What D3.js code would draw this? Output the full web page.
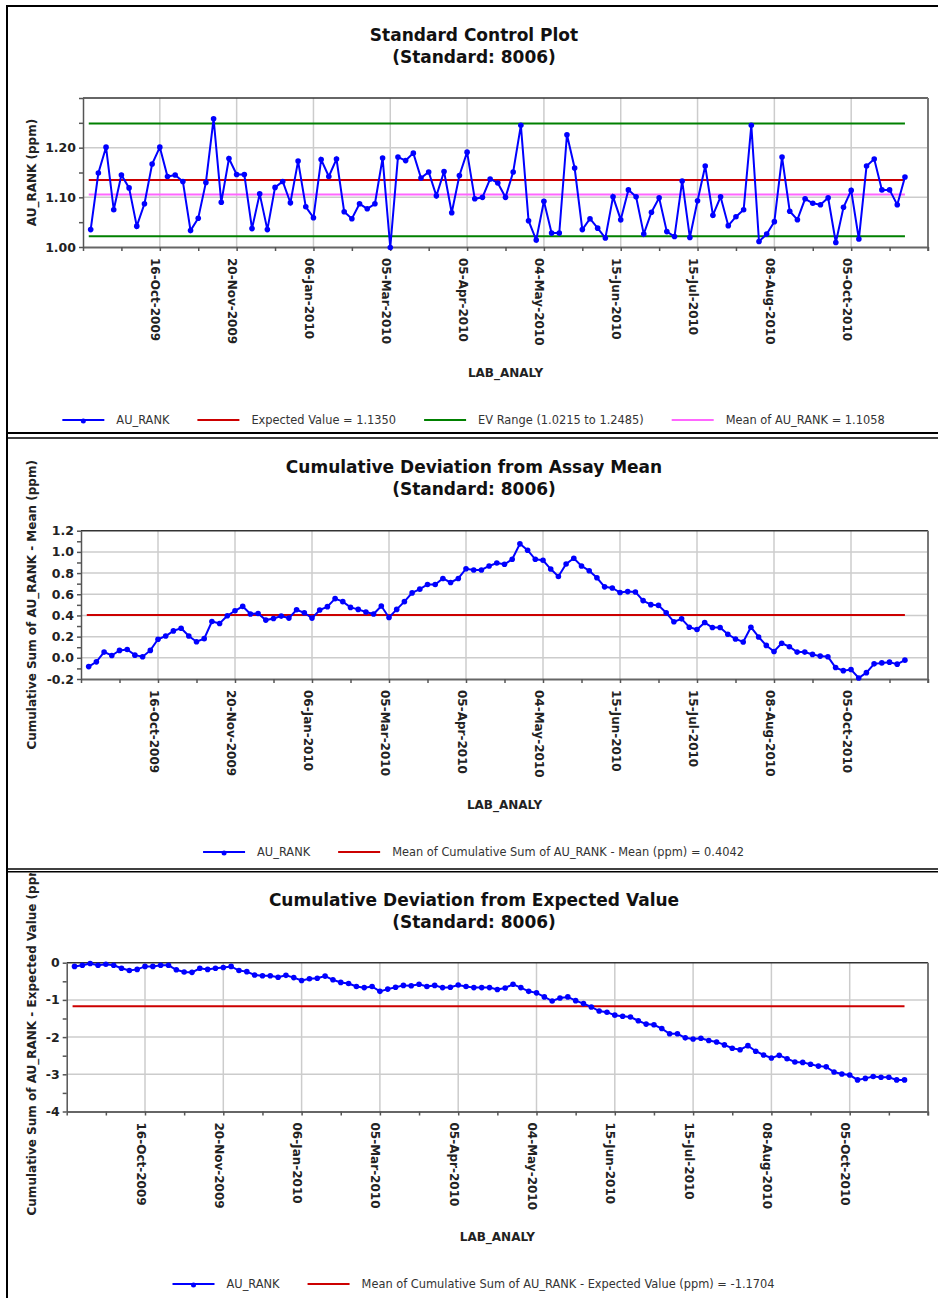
<!DOCTYPE html>
<html><head><meta charset="utf-8">
<script src="https://cdn.jsdelivr.net/npm/d3@7/dist/d3.min.js"></script>
<style>
body{margin:0;background:#fff}
svg{display:block}
text{font-family:"DejaVu Sans",Verdana,sans-serif}
</style>
</head><body>
<svg id="c" width="938" height="1298"></svg>
<script>
// ---------- DATA ----------
const xLabels = ["16-Oct-2009","20-Nov-2009","06-Jan-2010","05-Mar-2010","05-Apr-2010","04-May-2010","15-Jun-2010","15-Jul-2010","08-Aug-2010","05-Oct-2010"];
const xLabelIndex = [10,20,30,40,50,60,70,80,90,100];
const xTickIndex = [0,5,10,15,20,25,30,35,40,45,50,55,60,65,70,75,80,85,90,95,100,105,110];

const auRank = [1.035,1.149,1.201,1.075,1.145,1.119,1.042,1.087,1.167,1.201,
1.142,1.145,1.132,1.033,1.058,1.130,1.258,1.090,1.178,1.146,
1.146,1.037,1.107,1.035,1.120,1.132,1.089,1.173,1.081,1.059,
1.176,1.142,1.177,1.071,1.057,1.087,1.077,1.087,1.179,0.999,
1.181,1.174,1.189,1.139,1.151,1.103,1.152,1.069,1.144,1.191,
1.097,1.100,1.137,1.129,1.100,1.151,1.245,1.053,1.014,1.092,
1.028,1.028,1.226,1.159,1.035,1.057,1.038,1.018,1.101,1.055,
1.115,1.101,1.026,1.070,1.099,1.031,1.021,1.133,1.019,1.093,
1.163,1.064,1.101,1.043,1.061,1.075,1.245,1.011,1.026,1.051,
1.181,1.072,1.055,1.097,1.088,1.085,1.099,1.009,1.080,1.114,
1.016,1.163,1.177,1.115,1.115,1.085,1.141];

const cumDevMean = [-0.083,-0.038,0.054,0.022,0.070,0.079,0.025,0.010,0.070,0.175,
0.206,0.254,0.279,0.206,0.152,0.181,0.343,0.324,0.397,0.444,
0.486,0.413,0.419,0.356,0.371,0.394,0.375,0.454,0.425,0.375,
0.451,0.483,0.559,0.530,0.476,0.457,0.432,0.413,0.489,0.381,
0.457,0.530,0.613,0.648,0.692,0.692,0.749,0.711,0.749,0.841,
0.829,0.829,0.867,0.895,0.883,0.930,1.076,1.016,0.930,0.921,
0.838,0.768,0.886,0.940,0.867,0.822,0.756,0.670,0.659,0.616,
0.625,0.622,0.540,0.502,0.495,0.425,0.340,0.368,0.289,0.267,
0.333,0.286,0.286,0.222,0.178,0.149,0.289,0.197,0.117,0.060,
0.137,0.105,0.054,0.054,0.032,0.016,0.010,-0.092,-0.121,-0.111,
-0.191,-0.140,-0.057,-0.048,-0.041,-0.060,-0.022];

const cumDevEV = [-0.10,-0.07,-0.02,-0.07,-0.04,-0.07,-0.15,-0.21,-0.18,-0.10,
-0.10,-0.07,-0.07,-0.19,-0.25,-0.26,-0.15,-0.18,-0.15,-0.13,
-0.10,-0.21,-0.24,-0.33,-0.35,-0.35,-0.39,-0.34,-0.40,-0.48,
-0.43,-0.42,-0.36,-0.46,-0.53,-0.56,-0.64,-0.67,-0.64,-0.77,
-0.71,-0.66,-0.61,-0.62,-0.58,-0.64,-0.61,-0.67,-0.66,-0.60,
-0.64,-0.67,-0.67,-0.67,-0.72,-0.68,-0.58,-0.67,-0.77,-0.81,
-0.92,-1.03,-0.95,-0.92,-1.02,-1.10,-1.19,-1.30,-1.33,-1.41,
-1.44,-1.46,-1.56,-1.65,-1.67,-1.77,-1.91,-1.91,-2.02,-2.05,
-2.03,-2.09,-2.13,-2.21,-2.30,-2.34,-2.23,-2.38,-2.48,-2.56,
-2.49,-2.58,-2.67,-2.68,-2.73,-2.78,-2.80,-2.94,-2.99,-3.02,
-3.15,-3.11,-3.06,-3.08,-3.08,-3.15,-3.15];

const expectedValue = 1.1350, evLow = 1.0215, evHigh = 1.2485, meanAuRank = 1.1058;
const meanCumDevMean = 0.4042, meanCumDevEV = -1.1704;

const topTicks = [1.00,1.05,1.10,1.15,1.20,1.25,1.30];
const topLabels = [1.00,1.10,1.20];
const midTicks = [-0.2,-0.1,0.0,0.1,0.2,0.3,0.4,0.5,0.6,0.7,0.8,0.9,1.0,1.1,1.2];
const midLabels = [-0.2,0.0,0.2,0.4,0.6,0.8,1.0,1.2];
const botTicks = [-4,-3.5,-3,-2.5,-2,-1.5,-1,-0.5,0];
const botLabels = [-4,-3,-2,-1,0];

// ---------- DRAW ----------
const svg = d3.select('#c');
const defs = svg.append('defs');
const BLUE = '#0000ff', RED = '#cc0000', GREEN = '#008000', PINK = '#ff66ff';

function drawLegend(g, items, cy, cx) {
  const lg = g.append('g');
  let xpos = 0;
  items.forEach((it, k) => {
    const ig = lg.append('g').attr('transform', `translate(${xpos},0)`);
    ig.append('line').attr('x1', 0).attr('x2', 42).attr('y1', cy).attr('y2', cy)
      .attr('stroke', it.color).attr('stroke-width', 2);
    if (it.marker) ig.append('circle').attr('cx', 21).attr('cy', cy + 1).attr('r', 2.5).attr('fill', it.color);
    const t = ig.append('text').attr('x', 54).attr('y', cy + 4).attr('font-size', 11.4)
      .attr('fill', '#333').text(it.label);
    xpos += 54 + t.node().getComputedTextLength() + 28;
  });
  const w = xpos - 28;
  lg.attr('transform', `translate(${cx - w / 2},0)`);
}

function drawPanel(p) {
  defs.append('clipPath').attr('id', p.id).append('rect')
    .attr('x', 0).attr('y', p.top).attr('width', 938).attr('height', p.bottom - p.top);
  const g = svg.append('g').attr('clip-path', `url(#${p.id})`);
  const x = d3.scaleLinear().domain([0, 110]).range([p.x0, p.x1]);
  const y = d3.scaleLinear().domain(p.yDomain).range([p.y1, p.y0]);

  // titles
  g.append('text').attr('x', 474).attr('y', p.titleY).attr('text-anchor', 'middle')
    .attr('font-size', 17).attr('font-weight', 'bold').attr('fill', '#111').text(p.title);
  g.append('text').attr('x', 474).attr('y', p.titleY + 22).attr('text-anchor', 'middle')
    .attr('font-size', 17).attr('font-weight', 'bold').attr('fill', '#111').text('(Standard: 8006)');

  // grid
  g.append('g').selectAll('line').data(xLabelIndex).join('line')
    .attr('x1', d => x(d)).attr('x2', d => x(d)).attr('y1', p.y0).attr('y2', p.y1)
    .attr('stroke', '#cccccc').attr('stroke-width', 1.5);
  g.append('g').selectAll('line').data(p.yGrid).join('line')
    .attr('x1', p.x0).attr('x2', p.x1).attr('y1', d => y(d)).attr('y2', d => y(d))
    .attr('stroke', '#cccccc').attr('stroke-width', 1.5);

  // frame top/right
  g.append('line').attr('x1', p.x0).attr('x2', p.x1).attr('y1', p.y0).attr('y2', p.y0)
    .attr('stroke', '#333').attr('stroke-width', 1.5);
  g.append('line').attr('x1', p.x1).attr('x2', p.x1).attr('y1', p.y0).attr('y2', p.y1 + 4)
    .attr('stroke', '#777').attr('stroke-width', 2);

  // x axis
  const xg = g.append('g').attr('transform', `translate(0,${p.y1})`)
    .call(d3.axisBottom(x).tickValues(xTickIndex).tickSize(4).tickSizeOuter(0).tickFormat(''));
  xg.select('.domain').attr('stroke', '#666').attr('stroke-width', 2);
  xg.selectAll('.tick line').attr('stroke', '#555').attr('stroke-width', 1.5);
  g.append('g').selectAll('text').data(xLabels).join('text')
    .attr('transform', (d, i) => `translate(${x(xLabelIndex[i]) - 8.5},${p.y1 + 11}) rotate(90)`)
    .attr('font-size', 12).attr('font-weight', 'bold').attr('fill', '#222').text(d => d);

  // y axis
  const yg = g.append('g').attr('transform', `translate(${p.x0},0)`)
    .call(d3.axisLeft(y).tickValues(p.yTicks).tickSize(4).tickSizeOuter(0).tickPadding(3)
      .tickFormat(d => p.yLabels.includes(d) ? p.fmt(d) : ''));
  yg.attr('font-family', null).attr('font-size', null);
  yg.select('.domain').attr('stroke', '#555').attr('stroke-width', 1.5);
  yg.selectAll('.tick line').attr('stroke', '#555').attr('stroke-width', 1.5);
  yg.selectAll('.tick text').attr('font-size', 12.5).attr('font-weight', 'bold').attr('fill', '#222');

  // reference lines
  p.refs.forEach(r => {
    g.append('line').attr('x1', x(0.75)).attr('x2', x(p.values.length))
      .attr('y1', y(r.v)).attr('y2', y(r.v)).attr('stroke', r.color).attr('stroke-width', 2);
  });

  // data
  g.append('path').datum(p.values)
    .attr('d', d3.line().x((d, i) => x(i + 1)).y(d => y(d)))
    .attr('fill', 'none').attr('stroke', BLUE).attr('stroke-width', 2).attr('stroke-linejoin', 'miter');
  g.append('g').selectAll('circle').data(p.values).join('circle')
    .attr('cx', (d, i) => x(i + 1)).attr('cy', d => y(d)).attr('r', 2.8).attr('fill', BLUE);

  // axis titles
  g.append('text').attr('transform', `translate(32,${(p.y0 + p.y1) / 2}) rotate(-90)`)
    .attr('text-anchor', 'middle').attr('dy', '0.35em').attr('font-size', 12).attr('font-weight', 'bold')
    .attr('fill', '#222').text(p.yTitle);
  g.append('text').attr('x', (p.x0 + p.x1) / 2).attr('y', p.xTitleY).attr('text-anchor', 'middle')
    .attr('font-size', 12).attr('font-weight', 'bold').attr('fill', '#222').text('LAB_ANALY');

  drawLegend(g, p.legend, p.legendY, 473.5);
}

drawPanel({
  id: 'p1', top: 7, bottom: 432, x0: 83, x1: 928, y0: 98, y1: 247,
  yDomain: [1.0, 1.3], yTicks: topTicks, yLabels: topLabels, yGrid: [1.10, 1.20], fmt: d => d.toFixed(2),
  title: 'Standard Control Plot', titleY: 41, yTitle: 'AU_RANK (ppm)', xTitleY: 377, legendY: 420,
  values: auRank,
  refs: [{v: expectedValue, color: RED}, {v: evLow, color: GREEN}, {v: evHigh, color: GREEN}, {v: meanAuRank, color: PINK}],
  legend: [
    {label: 'AU_RANK', color: BLUE, marker: true},
    {label: `Expected Value = ${expectedValue.toFixed(4)}`, color: RED},
    {label: `EV Range (${evLow.toFixed(4)} to ${evHigh.toFixed(4)})`, color: GREEN},
    {label: `Mean of AU_RANK = ${meanAuRank.toFixed(4)}`, color: PINK}
  ]
});

drawPanel({
  id: 'p2', top: 439, bottom: 868, x0: 81, x1: 928, y0: 530.7, y1: 679,
  yDomain: [-0.2, 1.2], yTicks: midTicks, yLabels: midLabels, yGrid: [0.0, 0.2, 0.4, 0.6, 0.8, 1.0], fmt: d => d.toFixed(1),
  title: 'Cumulative Deviation from Assay Mean', titleY: 473, yTitle: 'Cumulative Sum of AU_RANK - Mean (ppm)',
  xTitleY: 809, legendY: 852,
  values: cumDevMean,
  refs: [{v: meanCumDevMean, color: RED}],
  legend: [
    {label: 'AU_RANK', color: BLUE, marker: true},
    {label: `Mean of Cumulative Sum of AU_RANK - Mean (ppm) = ${meanCumDevMean.toFixed(4)}`, color: RED}
  ]
});

drawPanel({
  id: 'p3', top: 873, bottom: 1298, x0: 66.7, x1: 928, y0: 962.7, y1: 1111.5,
  yDomain: [-4, 0], yTicks: botTicks, yLabels: botLabels, yGrid: [-1, -2, -3], fmt: d => String(d),
  title: 'Cumulative Deviation from Expected Value', titleY: 906, yTitle: 'Cumulative Sum of AU_RANK - Expected Value (ppm)',
  xTitleY: 1241, legendY: 1284,
  values: cumDevEV,
  refs: [{v: meanCumDevEV, color: RED}],
  legend: [
    {label: 'AU_RANK', color: BLUE, marker: true},
    {label: `Mean of Cumulative Sum of AU_RANK - Expected Value (ppm) = ${meanCumDevEV.toFixed(4)}`, color: RED}
  ]
});

// page frame
const fr = svg.append('g').attr('stroke', '#000');
fr.append('line').attr('x1', 6).attr('x2', 938).attr('y1', 6).attr('y2', 6).attr('stroke-width', 2);
fr.append('line').attr('x1', 7).attr('x2', 7).attr('y1', 5).attr('y2', 1298).attr('stroke-width', 2);
fr.append('line').attr('x1', 6).attr('x2', 938).attr('y1', 433).attr('y2', 433).attr('stroke-width', 2);
fr.append('line').attr('x1', 6).attr('x2', 938).attr('y1', 438).attr('y2', 438).attr('stroke-width', 1.5);
fr.append('line').attr('x1', 6).attr('x2', 938).attr('y1', 869).attr('y2', 869).attr('stroke-width', 1.5);
fr.append('line').attr('x1', 6).attr('x2', 938).attr('y1', 871.8).attr('y2', 871.8).attr('stroke-width', 1.5);
</script>
</body></html>
